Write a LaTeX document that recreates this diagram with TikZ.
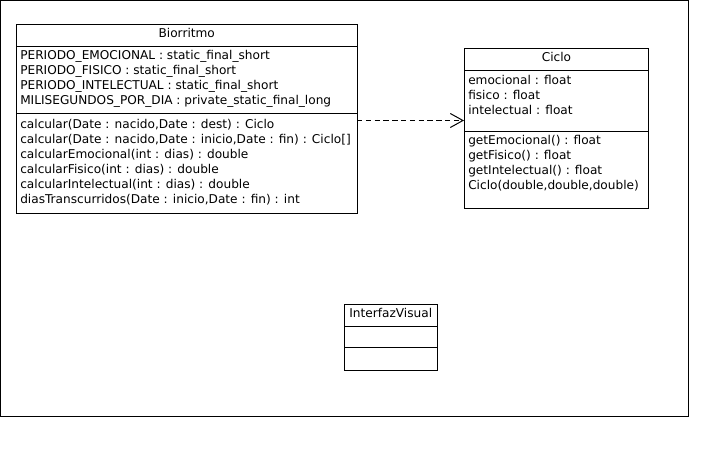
\documentclass[tikz,border=0pt]{standalone}
\usepackage{fontspec}
\setmainfont{DejaVu Sans}
\usetikzlibrary{fit,arrows.meta}
\begin{document}
\begin{tikzpicture}[x=0.75pt,y=-0.75pt,
  box/.style={draw=black,line width=0.75pt,inner sep=0pt,fill=white},
  sep/.style={draw=black,line width=0.75pt},
  txt/.style={anchor=base west,inner sep=0pt,font=\fontsize{9.1}{10}\selectfont},
  ttl/.style={anchor=base,inner sep=0pt,font=\fontsize{9.1}{10}\selectfont},
  dep/.style={draw=black,line width=0.75pt,dash pattern=on 4pt off 2.6pt,
    -{Straight Barb[length=9.5pt,width=10.5pt,line width=0.75pt]}}]
\useasboundingbox (0,0) rectangle (726,454);
% outer frame
\node[box,fit={(0.5,0.5) (688.5,416)}] (frame) {};
% Biorritmo
\node[box,fit={(16.5,24.5) (357,213)}] (bio) {};
\draw[sep] (16.5,46) -- (357,46);
\draw[sep] (16.5,113.5) -- (357,113.5);
\node[ttl] (biot) at (186.75,37.5) {Biorritmo};
\node[txt] (b1) at (20,59.5) {PERIODO\_EMOCIONAL : static\_final\_short};
\node[txt] (b2) at (20,74.5) {PERIODO\_FISICO : static\_final\_short};
\node[txt] (b3) at (20,89.5) {PERIODO\_INTELECTUAL : static\_final\_short};
\node[txt] (b4) at (20,104.5) {MILISEGUNDOS\_POR\_DIA : private\_static\_final\_long};
\node[txt] (m1) at (20,128.5) {calcular(Date : nacido,Date : dest) : Ciclo};
\node[txt] (m2) at (20,143.5) {calcular(Date : nacido,Date : inicio,Date : fin) : Ciclo[]};
\node[txt] (m3) at (20,158.5) {calcularEmocional(int : dias) : double};
\node[txt] (m4) at (20,173.5) {calcularFisico(int : dias) : double};
\node[txt] (m5) at (20,188.5) {calcularIntelectual(int : dias) : double};
\node[txt] (m6) at (20,203.5) {diasTranscurridos(Date : inicio,Date : fin) : int};
% Ciclo
\node[box,fit={(464.5,48.5) (648.5,208)}] (ciclo) {};
\draw[sep] (464.5,70) -- (648.5,70);
\draw[sep] (464.5,131) -- (648.5,131);
\node[ttl] (ciclot) at (556.5,61) {Ciclo};
\node[txt] (c1) at (468,84.5) {emocional : float};
\node[txt] (c2) at (468,99.5) {fisico : float};
\node[txt] (c3) at (468,114.5) {intelectual : float};
\node[txt] (d1) at (468,144.5) {getEmocional() : float};
\node[txt] (d2) at (468,159.5) {getFisico() : float};
\node[txt] (d3) at (468,174.5) {getIntelectual() : float};
\node[txt] (d4) at (468,189.5) {Ciclo(double,double,double)};
% InterfazVisual
\node[box,fit={(344.5,304.5) (437,370)}] (iv) {};
\draw[sep] (344.5,326) -- (437,326);
\draw[sep] (344.5,347.5) -- (437,347.5);
\node[ttl] (ivt) at (390.75,317.5) {InterfazVisual};
% dependency
\coordinate (depstart) at (357,120.5);
\draw[dep] (depstart) -- (depstart -| ciclo.west);
\end{tikzpicture}
\end{document}
